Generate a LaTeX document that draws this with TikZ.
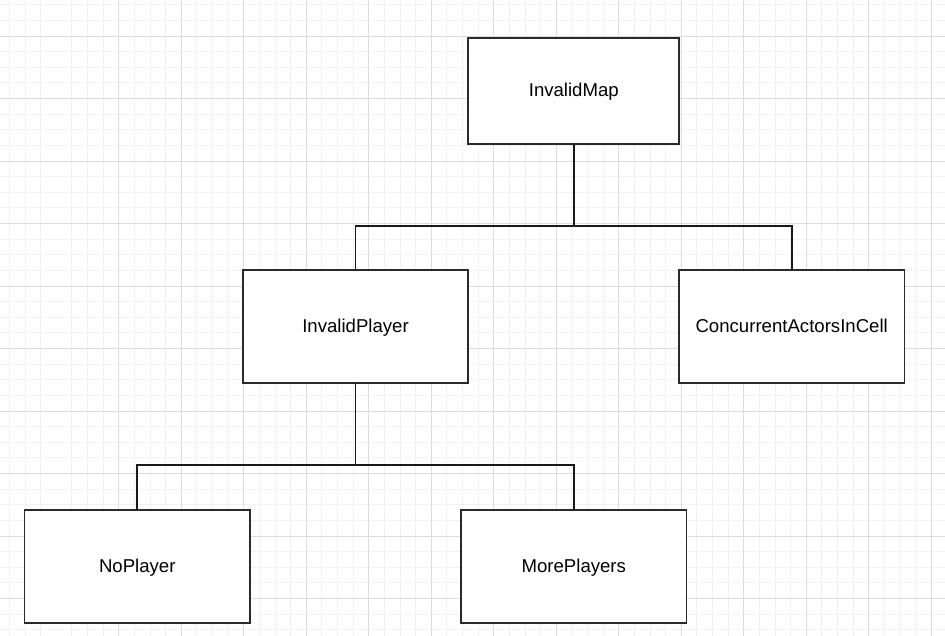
\documentclass[tikz,border=0pt]{standalone}
\usepackage{fontspec}
\setmainfont{Liberation Sans}
\definecolor{gridminor}{HTML}{F2F2F2}
\definecolor{gridmajor}{HTML}{DCDCDC}
\definecolor{boxline}{HTML}{2A2A2A}
\tikzset{
  classbox/.style={draw=boxline, line width=1.8pt, fill=white, rectangle,
    inner sep=0pt, outer sep=0pt, minimum height=113pt, minimum width=225.5pt,
    text height=14pt, text depth=2.6pt,
    font=\fontsize{18.6}{22}\selectfont, text=black},
  link/.style={draw=black!90, line width=1.9pt},
  minorline/.style={draw=gridminor, line width=0.9pt},
  majorline/.style={draw=gridmajor, line width=0.9pt}
}
\begin{document}
\begin{tikzpicture}[x=1pt,y=-1pt]
\useasboundingbox (0,0) rectangle (945,636);
\fill[white] (0,0) rectangle (945,636);
\begin{scope}
\clip (0,0) rectangle (945,636);
% minor grid
\foreach \i in {0,...,61} {
  \pgfmathtruncatemacro{\m}{mod(\i,4)}
  \ifnum\m=0\else
    \draw[minorline] ({-6.2+15.625*\i},0) -- ({-6.2+15.625*\i},636);
  \fi
}
\foreach \j in {0,...,42} {
  \pgfmathtruncatemacro{\m}{mod(\j,4)}
  \ifnum\m=0\else
    \draw[minorline] (0,{-26.5+15.625*\j}) -- (945,{-26.5+15.625*\j});
  \fi
}
% major grid
\foreach \i in {0,2,3,...,15} {
  \draw[majorline] ({-6.2+62.5*\i},0) -- ({-6.2+62.5*\i},636);
}
\draw[majorline] (118.3,70) -- (118.3,213);
\foreach \j in {0,...,10} {
  \draw[majorline] (0,{-26.5+62.5*\j}) -- (945,{-26.5+62.5*\j});
}
\end{scope}

% nodes
\node[classbox, minimum width=211pt, minimum height=105.7pt] (map) at (573.8,90.8) {InvalidMap};
\node[classbox] (player) at (355.5,326.8) {InvalidPlayer};
\node[classbox] (conc) at (791.7,326.8) {ConcurrentActorsInCell};
\node[classbox] (noplayer) at (137.3,566.3) {NoPlayer};
\node[classbox] (more) at (573.8,566.3) {MorePlayers};

% junctions
\coordinate (j1) at (573.8,225.7);
\coordinate (j2) at (355.5,465.3);

% connectors
\draw[link] (map.south) -- (j1) -| (player.north);
\draw[link] (j1) -| (conc.north);
\draw[link] (player.south) -- (j2) -| (noplayer.north);
\draw[link] (j2) -| (more.north);
\end{tikzpicture}
\end{document}
